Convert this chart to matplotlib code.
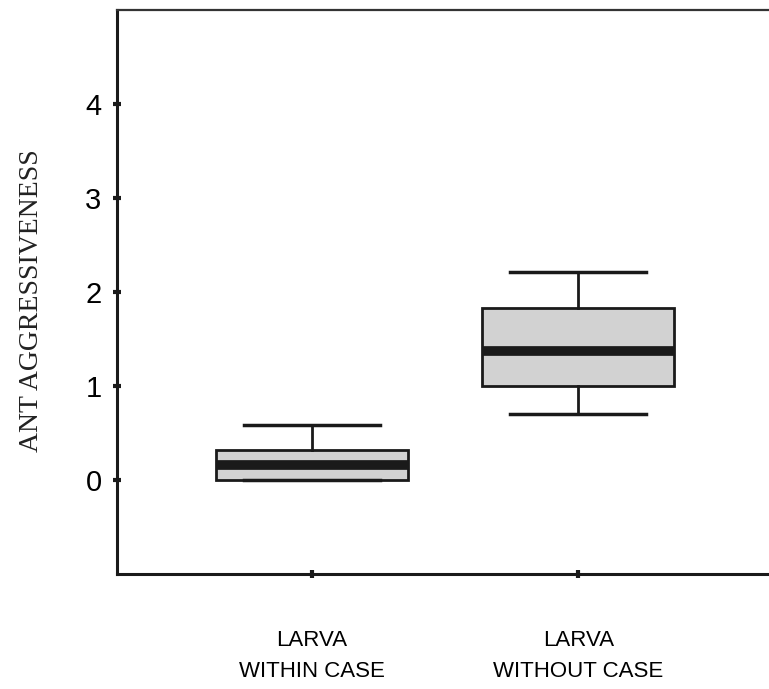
import matplotlib
matplotlib.use("Agg")
import matplotlib.pyplot as plt

categories = ["LARVA\nWITHIN CASE", "LARVA\nWITHOUT CASE"]
whislo = [0.0, 0.70]
q1 = [0.0, 1.00]
med = [0.16, 1.37]
q3 = [0.32, 1.83]
whishi = [0.59, 2.21]
yticks = [0, 1, 2, 3, 4]

fig = plt.figure(figsize=(7.69, 6.89), dpi=100)
ax = fig.add_axes([0.152, 0.1669, 0.86, 0.8186])

stats = [dict(whislo=a, q1=b, med=c, q3=d, whishi=e, label=l)
         for a, b, c, d, e, l in zip(whislo, q1, med, q3, whishi, categories)]
ax.bxp(stats, positions=[1, 2], widths=0.72, capwidths=0.51, showfliers=False,
       patch_artist=True,
       boxprops=dict(facecolor="#d2d2d2", edgecolor="#1a1a1a", linewidth=2),
       medianprops=dict(color="#1a1a1a", linewidth=7, solid_capstyle="butt"),
       whiskerprops=dict(color="#1a1a1a", linewidth=2),
       capprops=dict(color="#1a1a1a", linewidth=2.5))

ax.set_xlim(0.27, 2.75)
ax.set_ylim(-1, 5)
ax.set_yticks(yticks)
ax.set_yticklabels([str(t) for t in yticks], fontsize=21, family="Liberation Sans")
ax.set_xticks([1, 2])
ax.set_xticklabels(categories, fontsize=16, family="Liberation Sans", linespacing=1.65)
ax.tick_params(axis="y", direction="inout", length=6, width=3, pad=8, color="#1a1a1a")
ax.tick_params(axis="x", direction="inout", length=6, width=3, pad=37, color="#1a1a1a")
ax.spines["right"].set_visible(False)
for s in ["left", "bottom"]:
    ax.spines[s].set_linewidth(2.2)
    ax.spines[s].set_color("#1a1a1a")
ax.spines["top"].set_linewidth(1.6)
ax.spines["top"].set_color("#333333")

fig.text(0.041, 0.563, "ANT AGGRESSIVENESS", rotation=90, ha="center", va="center",
         fontsize=20, family="Liberation Serif", color="#222222")

fig.savefig("out.png", dpi=100)
